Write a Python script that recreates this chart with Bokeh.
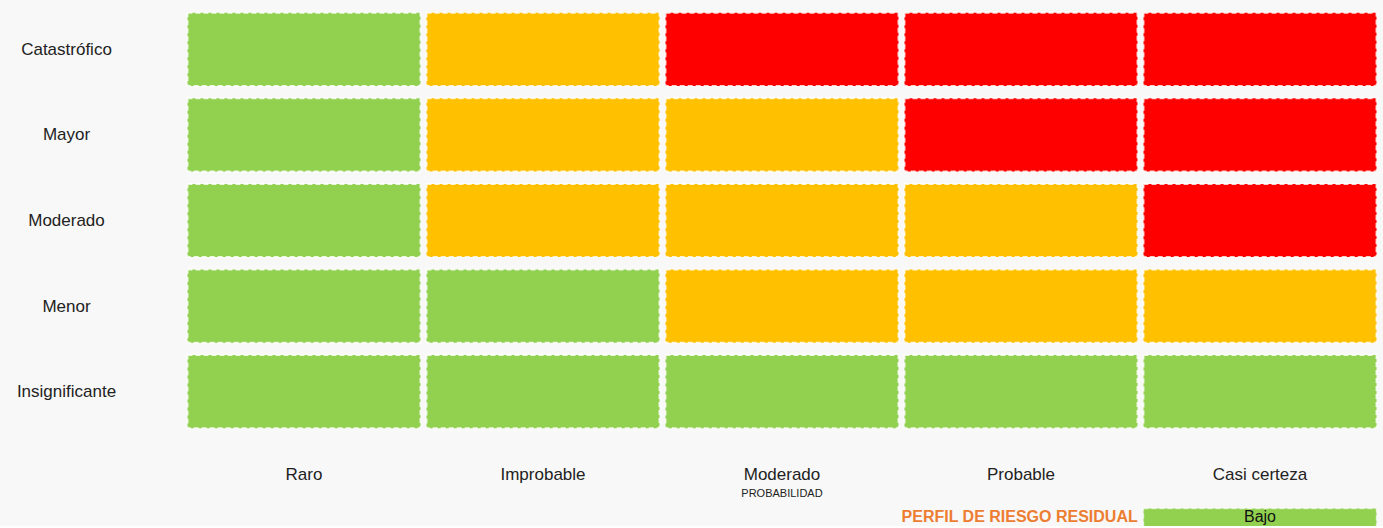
from bokeh.plotting import figure
from bokeh.models import FactorRange, Range1d, ColumnDataSource
from bokeh.layouts import row, column
from bokeh.embed import file_html
from bokeh.resources import INLINE
from bokeh.core.properties import value

probabilidad = ["Raro", "Improbable", "Moderado", "Probable", "Casi certeza"]
impacto = ["Catastrófico", "Mayor", "Moderado", "Menor", "Insignificante"]
# risk level per impact row (top to bottom), per probability column
riesgo = [
    ["Bajo", "Medio", "Alto", "Alto", "Alto"],
    ["Bajo", "Medio", "Medio", "Alto", "Alto"],
    ["Bajo", "Medio", "Medio", "Medio", "Alto"],
    ["Bajo", "Bajo", "Medio", "Medio", "Medio"],
    ["Bajo", "Bajo", "Bajo", "Bajo", "Bajo"],
]
colores_nivel = {"Bajo": "#92d050", "Medio": "#ffc000", "Alto": "#ff0000"}
x_label = "PROBABILIDAD"
leyenda_titulo = "PERFIL DE RIESGO RESIDUAL"
leyenda_nivel = "Bajo"

BG = "#f8f8f8"
FONT = "Liberation Sans"

xs, ys, cs = [], [], []
for i, imp in enumerate(impacto):
    for j, pr in enumerate(probabilidad):
        xs.append(pr)
        ys.append(imp)
        cs.append(colores_nivel[riesgo[i][j]])
src = ColumnDataSource(dict(x=xs, y=ys, color=cs))

x_range = FactorRange(factors=probabilidad)
y_range = FactorRange(factors=list(reversed(impacto)))

LEFT_W = 184
MAIN_H = 502
TOP = 6
BOTTOM = 68

# left labels figure
left = figure(width=LEFT_W, height=MAIN_H, x_range=Range1d(0, LEFT_W), y_range=y_range,
              x_axis_location=None, y_axis_location=None, toolbar_location=None,
              output_backend="svg", min_border_left=0, min_border_right=0,
              min_border_top=TOP, min_border_bottom=BOTTOM, outline_line_color=None,
              background_fill_color=BG, border_fill_color=BG)
left.grid.visible = False
left.text(x=[66] * len(impacto), y=impacto, text=impacto, text_align="center",
          text_baseline="middle", text_font=value(FONT), text_font_size="17px",
          text_color="#222222")

# main matrix
p = figure(width=1383 - LEFT_W, height=MAIN_H, x_range=x_range, y_range=y_range,
           toolbar_location=None, output_backend="svg", y_axis_location=None,
           min_border_left=0, min_border_right=4, min_border_top=TOP,
           min_border_bottom=BOTTOM, outline_line_color=None,
           background_fill_color=BG, border_fill_color=BG)
p.grid.visible = False
p.rect(x="x", y="y", width=0.975, height=0.855, source=src, fill_color="color",
       line_color="white", line_width=2, line_dash="5 3", line_alpha=0.8)
ax = p.xaxis[0]
ax.axis_line_color = None
ax.major_tick_line_color = None
ax.major_tick_out = 0
ax.major_tick_in = 0
ax.major_label_standoff = 30
ax.major_label_text_font = FONT
ax.major_label_text_font_size = "17px"
ax.major_label_text_color = "#222222"
ax.axis_label = x_label
ax.axis_label_standoff = 0
ax.axis_label_text_font = FONT
ax.axis_label_text_font_size = "11px"
ax.axis_label_text_font_style = "normal"
ax.axis_label_text_color = "#222222"

# legend strip
lg = figure(width=1383, height=24, x_range=x_range, y_range=Range1d(0, 24),
            x_axis_location=None, y_axis_location=None, toolbar_location=None,
            output_backend="svg", min_border_left=LEFT_W, min_border_right=4,
            min_border_top=0, min_border_bottom=0, outline_line_color=None,
            background_fill_color=BG, border_fill_color=BG)
lg.grid.visible = False
lg.rect(x=[probabilidad[-1]], y=[8], width=0.975, height=20,
        fill_color=colores_nivel[leyenda_nivel], line_color="white",
        line_width=1.5, line_dash="5 3", line_alpha=0.6)
lg.text(x=[probabilidad[-1]], y=[10.5], text=[leyenda_nivel], text_align="center",
        text_baseline="middle", text_font=value(FONT), text_font_size="16px",
        text_color="#111111")
lg.text(x=[probabilidad[-1]], y=[10.5], text=[leyenda_titulo], text_align="right",
        text_baseline="middle", x_offset=-122, text_font=value(FONT),
        text_font_size="16px", text_font_style="bold", text_color="#ed7d31")

top_row = row(left, p, spacing=0, styles={"background-color": BG})
layout = column(top_row, lg, spacing=0, styles={"background-color": BG})

with open("out.html", "w") as f:
    f.write(file_html(layout, INLINE))
